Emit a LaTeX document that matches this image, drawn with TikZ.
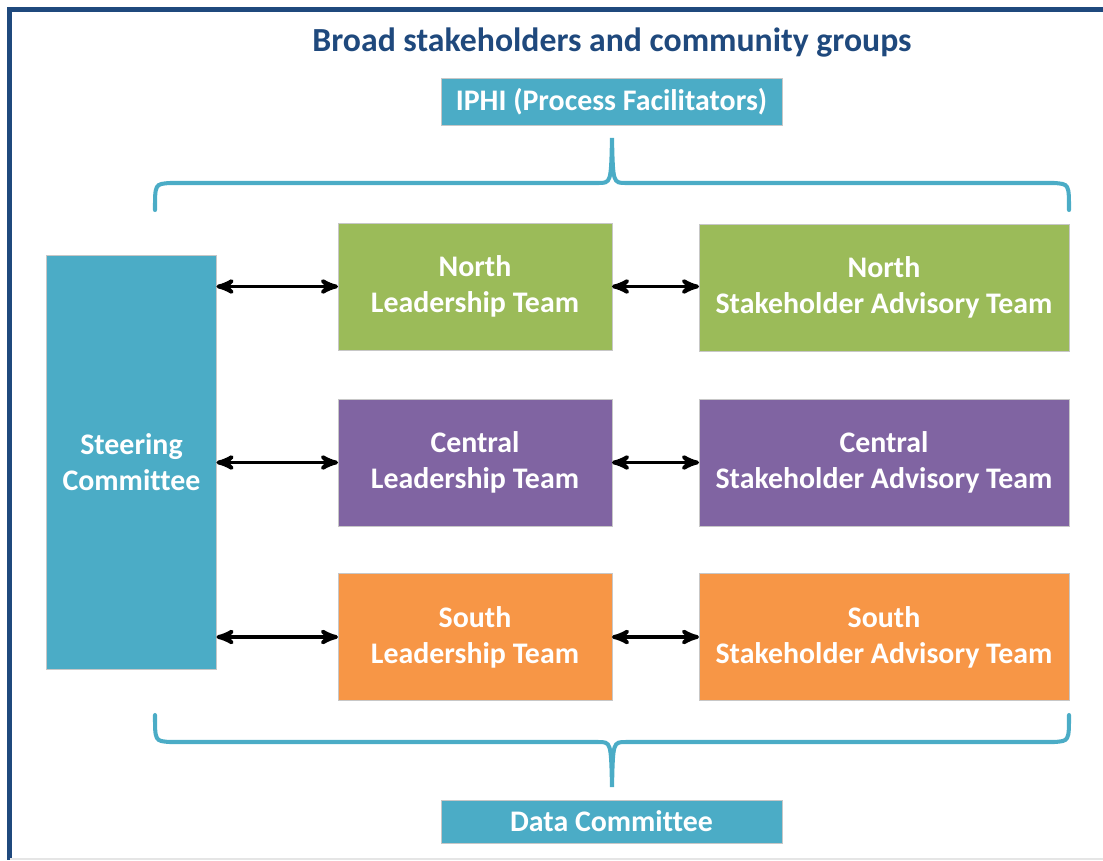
\documentclass[tikz,border=0pt]{standalone}
\usepackage{fontspec}
\setmainfont{Carlito}[Ligatures=NoCommon]
\usepackage{xcolor}
\usepackage{tikz}
\usetikzlibrary{shapes,arrows,positioning,calc}

\definecolor{navy}{HTML}{1F497D}
\definecolor{teal}{HTML}{4BACC6}
\definecolor{northgreen}{HTML}{9BBB59}
\definecolor{centralpurple}{HTML}{8064A2}
\definecolor{southorange}{HTML}{F79646}

\tikzset{
    team/.style={rectangle, draw=black!22, line width=0.4pt, inner sep=0pt, outer sep=0pt,
        text=white, align=center, font=\fontsize{17}{20.4}\selectfont\bfseries},
    leadbox/.style={team, minimum width=5.48cm, minimum height=2.54cm},
    advbox/.style={team, minimum width=7.4cm, minimum height=2.54cm},
    facbox/.style={team, fill=teal, minimum width=6.82cm},
    link/.style={<->, >=stealth', line width=2.2pt, black},
    brace/.style={teal, line width=2.3pt, line cap=round}
}

\begin{document}
\begin{tikzpicture}[x=0.02cm, y=-0.02cm]
    \useasboundingbox (0,0) rectangle (1103,860);

    % Frame
    \draw[navy, line width=2.4pt] (1103,9.5) -- (9.5,9.5) -- (9.5,860);
    \draw[black!10, line width=0.6pt] (9.5,859) -- (1103,859);

    % Title and facilitators
    \node[text=navy, font=\fontsize{19.2}{23}\selectfont\bfseries] (title) at (612,43) {Broad stakeholders and community groups};
    \node[facbox, minimum height=0.94cm] (iphi) at (611.5,101.5) {IPHI (Process Facilitators)};

    % Steering committee
    \node[team, fill=teal, minimum width=3.4cm, minimum height=8.28cm] (steer) at (131.5,462) {Steering\\Committee};

    % Leadership teams
    \node[leadbox, fill=northgreen] (nlt) at (475,286.5) {North\\Leadership Team};
    \node[leadbox, fill=centralpurple] (clt) at (475,462.5) {Central\\Leadership Team};
    \node[leadbox, fill=southorange] (slt) at (475,637) {South\\Leadership Team};

    % Stakeholder advisory teams
    \node[advbox, fill=northgreen] (nsat) at (884,287.5) {North\\Stakeholder Advisory Team};
    \node[advbox, fill=centralpurple] (csat) at (884,462.5) {Central\\Stakeholder Advisory Team};
    \node[advbox, fill=southorange] (ssat) at (884,637) {South\\Stakeholder Advisory Team};

    % Data committee
    \node[facbox, minimum height=0.86cm] (data) at (611.5,821.5) {Data Committee};

    % Arrows
    \foreach \lt/\sat in {nlt/nsat, clt/csat, slt/ssat} {
        \draw[link] (steer.east |- \lt.west) -- (\lt.west);
        \draw[link] (\lt.east) -- (\sat.west |- \lt.east);
    }

    % Braces
    \coordinate (toptip) at (612,138);
    \coordinate (bottip) at (612,787);
    \draw[brace] (155,210) .. controls (155,184) .. (170,183) -- (598,183)
        .. controls (611,183) .. (toptip) .. controls (613,183) .. (626,183)
        -- (1054,183) .. controls (1069,184) .. (1069,210);
    \draw[brace] (155,715) .. controls (155,741) .. (170,742) -- (598,742)
        .. controls (611,742) .. (bottip) .. controls (613,742) .. (626,742)
        -- (1054,742) .. controls (1069,741) .. (1069,715);

\end{tikzpicture}
\end{document}
